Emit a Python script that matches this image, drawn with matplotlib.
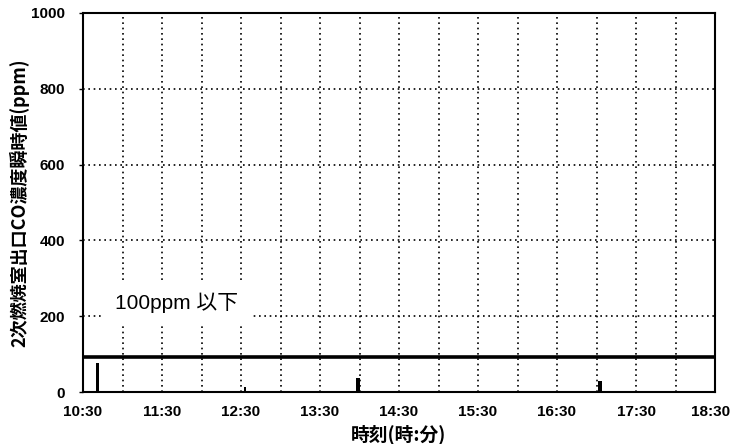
import matplotlib
matplotlib.use("Agg")
import matplotlib.pyplot as plt
import matplotlib.transforms as mtransforms
import numpy as np

plt.rcParams['font.family'] = ['Liberation Sans', 'Noto Sans CJK JP', 'DejaVu Sans']

# data (hours as decimal)
spike_times = [10 + 41/60, 12 + 33/60, 13 + 59/60, 17 + 3/60]
spike_values = [77, 13, 37, 29]
spike_widths_min = [2.4, 2.0, 3.0, 3.0]
limit_value = 92
x_ticks_labels = ["10:30", "11:30", "12:30", "13:30", "14:30", "15:30", "16:30", "17:30", "18:30"]
y_ticks = [0, 200, 400, 600, 800, 1000]

fig = plt.figure(figsize=(7.30, 4.44), dpi=100)
ax = fig.add_axes([83/730, 1 - 392/444, (715-83)/730, (392-13)/444])

x_start, x_end = 10.5, 18.5
ax.set_xlim(x_start, x_end)
ax.set_ylim(0, 1000)

# grid
for xv in np.arange(x_start + 0.5, x_end, 0.5):
    ax.axvline(xv, color='black', lw=1.2, ls=(0, (1, 2.2)), zorder=1)
for yv in y_ticks[1:-1]:
    ax.axhline(yv, color='black', lw=1.2, ls=(0, (1, 2.2)), zorder=1)

# limit line
ax.axhline(limit_value, color='black', lw=2.6, zorder=3)

# spikes
ax.bar(spike_times, spike_values, width=[w/60 for w in spike_widths_min],
       color='black', zorder=4)

ax.set_xticks(np.arange(x_start, x_end + 0.01, 1.0))
ax.set_xticklabels(x_ticks_labels)
ax.set_yticks(y_ticks)
ax.set_yticklabels([str(v) for v in y_ticks])
ax.tick_params(axis='both', labelsize=11, direction='out', length=3, width=1)
ax.tick_params(axis='y', pad=10)
ax.tick_params(axis='x', length=0, pad=9)
for lab in ax.get_xticklabels() + ax.get_yticklabels():
    lab.set_fontweight('bold')
last = ax.get_xticklabels()[-1]
last.set_transform(last.get_transform() + mtransforms.ScaledTranslation(-4/100, 0, fig.dpi_scale_trans))

for s in ax.spines.values():
    s.set_linewidth(1.5)

ax.set_xlabel("時刻(時:分)", fontsize=13.5, fontweight='bold',
              family=['Noto Sans CJK JP', 'DejaVu Sans'], labelpad=4)
ax.set_ylabel("2次燃焼室出口CO濃度瞬時値(ppm)", fontsize=13, fontweight='bold',
              family=['Noto Sans CJK JP', 'DejaVu Sans'])
ax.yaxis.set_label_coords((29 - 83) / 632, 0.5)

ax.text(11 + 41/60, 235, "100ppm 以下", fontsize=15, ha='center', va='center',
        family=['Liberation Sans', 'Noto Sans CJK JP'],
        bbox=dict(facecolor='white', edgecolor='none', pad=9), zorder=5)

fig.savefig("out.png", dpi=100)
